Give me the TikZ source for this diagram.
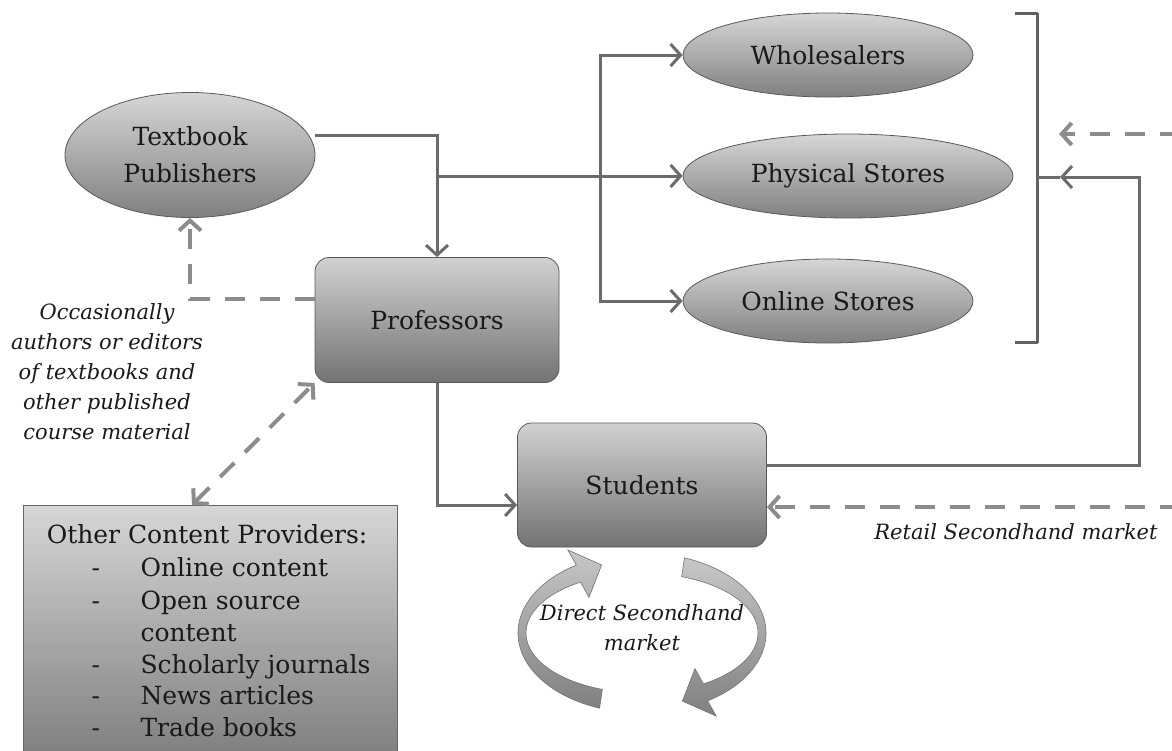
\documentclass[tikz,border=0pt]{standalone}
\usepackage{fontspec}
\setmainfont{DejaVu Serif}
\usetikzlibrary{arrows.meta,shapes.geometric,calc}
\begin{document}
\begin{tikzpicture}[x=1pt,y=-1pt,
  lbl/.style={font=\fontsize{25}{30}\selectfont, text=black!90},
  lst/.style={font=\fontsize{25}{30}\selectfont, text=black!90, anchor=west, text height=18pt, text depth=6pt},
  captxt/.style={font=\fontsize{21}{30}\selectfont\itshape, align=center, text=black!90},
  ell/.style={ellipse, draw=black!65, line width=0.8pt, top color=black!16, bottom color=black!50, inner sep=0pt, align=center},
  rbox/.style={rectangle, rounded corners=14pt, draw=black!65, line width=0.8pt, top color=black!18, bottom color=black!55, minimum width=244pt, minimum height=125pt, inner sep=0pt},
  conn/.style={draw=black!58, line width=3pt, -{Straight Barb[length=10pt,width=22pt]}},
  dconn/.style={draw=black!45, line width=4pt, dash pattern=on 20pt off 15pt},
  dtip/.style={-{Straight Barb[length=10pt,width=22pt]}},
  circarrow/.style={draw=black!55, line width=0.6pt, top color=black!22, bottom color=black!50},
]
\useasboundingbox (0,0) rectangle (1172,750);

% main nodes
\node[ell, font=\fontsize{25}{37}\selectfont, text=black!90, minimum width=250pt, minimum height=125pt] (tp) at (190,155) {Textbook\\Publishers};
\node[ell, lbl, minimum width=290pt, minimum height=84pt] (whole) at (828,55) {Wholesalers};
\node[ell, lbl, minimum width=330pt, minimum height=84pt] (phys) at (848,176) {Physical Stores};
\node[ell, lbl, minimum width=290pt, minimum height=84pt] (online) at (828,301) {Online Stores};
\node[rbox, lbl] (prof) at (437,320) {Professors};
\node[rbox, lbl, minimum width=249pt, minimum height=124pt] (stud) at (642,485) {Students};

% other content providers box
\node[rectangle, anchor=north, draw=black!60, line width=0.8pt, top color=black!16, bottom color=black!52, minimum width=374pt, minimum height=265pt] (ocp) at (210,505) {};
\node[lbl, text height=18pt, text depth=6pt] (ocpt) at (207,537) {Other Content Providers:};
\node[lst] (d1) at (88,570) {-};
\node[lst] (i1) at (137,570) {Online content};
\node[lst] (d2) at (88,603) {-};
\node[lst] (i2) at (137,603) {Open source};
\node[lst] (i2b) at (137,635) {content};
\node[lst] (d3) at (88,667) {-};
\node[lst] (i3) at (137,667) {Scholarly journals};
\node[lst] (d4) at (88,698) {-};
\node[lst] (i4) at (137,698) {News articles};
\node[lst] (d5) at (88,730) {-};
\node[lst] (i5) at (137,730) {Trade books};

% captions
\node[captxt] (occ) at (107,372) {Occasionally\\authors or editors\\of textbooks and\\other published\\course material};
\node[captxt] (retail) at (1016,532) {Retail Secondhand market};
\node[captxt] (direct) at (642,628) {Direct Secondhand\\market};

% coordinates
\coordinate (br) at (600,176);
\coordinate (turn) at (1139,177);
\coordinate (bkt) at (1037,177);
\coordinate (bktip) at (1060,177);
\coordinate (rtop) at (1180,134);
\coordinate (rtopend) at (1059,134);
\coordinate (rlow) at (1180,507);

% bracket
\draw[draw=black!62, line width=3pt, line join=round] (1015,13) -- (1037,13) -- (1037,342) -- (1015,342);

% solid connectors
\draw[conn] ([yshift=20pt]tp.east) -| (prof.north);
\draw[conn] (prof.north |- phys.west) -- (phys.west);
\draw[conn] (br) |- (whole.west);
\draw[conn] (br) |- (online.west);
\draw[conn] (prof.south) |- ([yshift=-20pt]stud.west);
\draw[draw=black!58, line width=3pt] (bkt) -- (bktip);
\draw[conn] ([yshift=20pt]stud.east) -| (turn) -- (bktip);

% dashed connectors
\draw[dconn, dtip] ([yshift=21pt]prof.west) -| (tp.south);
\draw[dconn, dtip] (rtop) -- (rtopend);
\draw[dconn, dtip] (rlow) -- ([yshift=-22pt]stud.east);
\draw[dconn, {Straight Barb[length=10pt,width=22pt]}-{Straight Barb[length=10pt,width=22pt]}] ([xshift=-18pt]ocp.north) -- (prof.south west);

% circular arrows (direct secondhand market)
\coordinate (cc) at (642,633);
\path[circarrow] ($(cc)+(110:124 and 80)$) arc[start angle=110, end angle=238, x radius=124, y radius=80]
  -- ($(cc)+(238:140 and 98)$) -- ($(cc)+(251:124 and 72)$) -- ($(cc)+(238:100 and 42)$)
  -- ($(cc)+(238:116 and 60)$) arc[start angle=238, end angle=110, x radius=116, y radius=60] -- cycle;
\path[circarrow] ($(cc)+(290:124 and 80)$) arc[start angle=290, end angle=418, x radius=124, y radius=80]
  -- ($(cc)+(418:140 and 98)$) -- ($(cc)+(431:124 and 72)$) -- ($(cc)+(418:100 and 42)$)
  -- ($(cc)+(418:116 and 60)$) arc[start angle=418, end angle=290, x radius=116, y radius=60] -- cycle;
\end{tikzpicture}
\end{document}
